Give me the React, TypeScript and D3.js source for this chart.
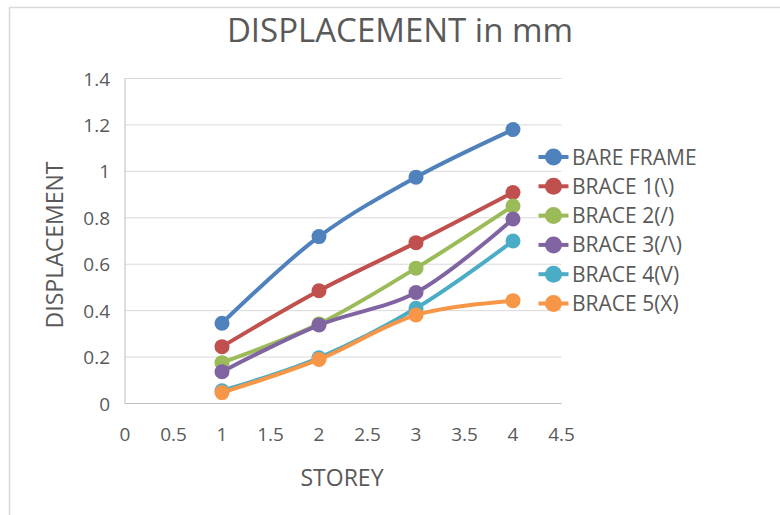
import * as d3 from "d3";

const storeys = [1, 2, 3, 4];
const seriesNames = ["BARE FRAME", "BRACE 1(\\)", "BRACE 2(/)", "BRACE 3(/\\)", "BRACE 4(V)", "BRACE 5(X)"];
const bareFrame = [0.346, 0.719, 0.975, 1.18];
const brace1 = [0.245, 0.486, 0.693, 0.909];
const brace2 = [0.176, 0.343, 0.583, 0.851];
const brace3 = [0.137, 0.338, 0.478, 0.795];
const brace4 = [0.055, 0.197, 0.41, 0.7];
const brace5 = [0.047, 0.19, 0.381, 0.443];
const xTicks = [0, 0.5, 1, 1.5, 2, 2.5, 3, 3.5, 4, 4.5];
const yTicks = [0, 0.2, 0.4, 0.6, 0.8, 1, 1.2, 1.4];
const colors = ["#4F81BD", "#C0504D", "#9BBB59", "#8064A2", "#4BACC6", "#F79646"];

const W = 780;
const H = 515;
const font = "'Open Sans', 'Noto Sans', sans-serif";
const textColor = "#595959";

export default function App() {
  const x = d3.scaleLinear().domain([0, 4.5]).range([125, 561.5]);
  const y = d3.scaleLinear().domain([0, 1.4]).range([403.5, 78.5]);
  const allSeries = [bareFrame, brace1, brace2, brace3, brace4, brace5];

  const line = d3
    .line<number>()
    .x((_, i) => x(storeys[i]))
    .y((d) => y(d))
    .curve(d3.curveCatmullRom.alpha(0.5));

  const legendX = 553.5;
  const legendY = d3.scaleLinear().domain([0, 5]).range([157, 303.5]);

  return (
    <svg
      width={W}
      height={H}
      style={{ position: "absolute", left: 0, top: 0, background: "#fff" }}
      fontFamily={font}
    >
      {/* chart border */}
      <path d={`M9.5,${H} V7.5 H${W}`} fill="none" stroke="#d9d9d9" strokeWidth={1.5} />

      <text x={400} y={42} textAnchor="middle" fontSize={33} fill={textColor}>
        DISPLACEMENT in mm
      </text>

      {/* gridlines */}
      {yTicks.map((t) => (
        <line key={t} x1={x(0)} x2={x(4.5)} y1={y(t)} y2={y(t)} stroke="#d9d9d9" strokeWidth={1} />
      ))}
      <line x1={x(0)} x2={x(0)} y1={y(0)} y2={y(1.4)} stroke="#bfbfbf" strokeWidth={1} />
      <line x1={x(0)} x2={x(4.5)} y1={y(0)} y2={y(0)} stroke="#bfbfbf" strokeWidth={1.2} />

      {yTicks.map((t) => (
        <text key={t} x={110} y={y(t) + 7} textAnchor="end" fontSize={19} fill={textColor}>
          {t}
        </text>
      ))}
      {xTicks.map((t) => (
        <text key={t} x={x(t)} y={441} textAnchor="middle" fontSize={19} fill={textColor}>
          {t}
        </text>
      ))}

      <text x={342} y={486} textAnchor="middle" fontSize={23} fill={textColor}>
        STOREY
      </text>
      <text
        transform={`translate(63,245) rotate(-90)`}
        textAnchor="middle"
        fontSize={23}
        fill={textColor}
      >
        DISPLACEMENT
      </text>

      {allSeries.map((s, k) => (
        <g key={k}>
          <path d={line(s) ?? ""} fill="none" stroke={colors[k]} strokeWidth={4} strokeLinecap="round" />
          {s.map((v, i) => (
            <circle key={i} cx={x(storeys[i])} cy={y(v)} r={7.5} fill={colors[k]} />
          ))}
        </g>
      ))}

      {seriesNames.map((name, k) => (
        <g key={name}>
          <line
            x1={legendX - 15}
            x2={legendX + 15}
            y1={legendY(k)}
            y2={legendY(k)}
            stroke={colors[k]}
            strokeWidth={4}
          />
          <circle cx={legendX} cy={legendY(k)} r={8.5} fill={colors[k]} />
          <text x={572} y={legendY(k) + 7.5} fontSize={21} fill={textColor}>
            {name}
          </text>
        </g>
      ))}
    </svg>
  );
}
